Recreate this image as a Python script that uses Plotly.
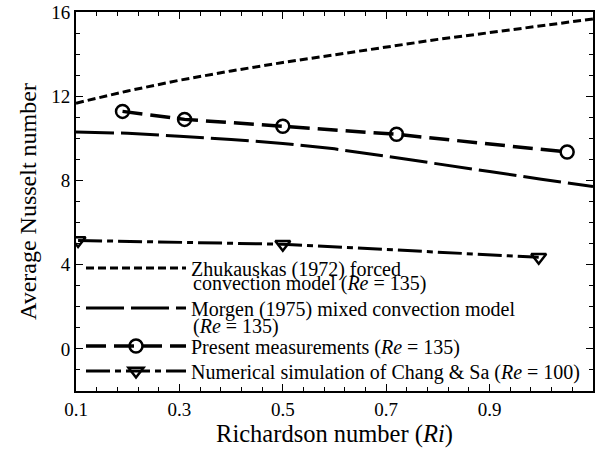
import plotly.graph_objects as go

# Zhukauskas (1972) forced convection model
ri_zh = [0.1, 0.2, 0.3, 0.4, 0.5, 0.6, 0.7, 0.8, 0.9, 1.0, 1.1]
nu_zh = [11.67, 12.25, 12.76, 13.2, 13.6, 13.97, 14.33, 14.7, 15.02, 15.35, 15.67]

# Morgen (1975) mixed convection model
ri_mo = [0.1, 0.2, 0.3, 0.4, 0.5, 0.6, 0.7, 0.8, 0.9, 1.0, 1.1]
nu_mo = [10.30, 10.24, 10.10, 9.95, 9.76, 9.50, 9.15, 8.80, 8.42, 8.06, 7.71]

# Present measurements
ri_pm = [0.19, 0.31, 0.50, 0.72, 1.05]
nu_pm = [11.28, 10.9, 10.57, 10.19, 9.35]

# Numerical simulation of Chang & Sa
ri_cs = [0.104, 0.50, 0.995]
nu_cs = [5.15, 4.97, 4.35]

x_ticks = [0.1, 0.3, 0.5, 0.7, 0.9, 1.1]
y_ticks = [0, 4, 8, 12, 16]

FONT = "Liberation Serif"
LEG_SIZE = 20

# plot area in pixels (for placing legend pieces)
W, H = 604, 451
ML, MR, MT, MB = 76, 11, 12, 60
PW, PH = W - ML - MR, H - MT - MB


def px_x(p):
    return (p - ML) / PW


def px_y(p):
    return (H - MB - p) / PH


fig = go.Figure()
fig.add_trace(go.Scatter(
    x=ri_zh, y=nu_zh, mode="lines", legend="legend",
    name="Zhukauskas (1972) forced",
    line=dict(color="black", width=3, dash="8px,4px")))
fig.add_trace(go.Scatter(
    x=ri_mo, y=nu_mo, mode="lines", legend="legend2",
    name="Morgen (1975) mixed convection model",
    line=dict(color="black", width=3, dash="38px,7px")))
fig.add_trace(go.Scatter(
    x=ri_pm, y=nu_pm, mode="lines+markers", legend="legend3",
    name="Present measurements (<i>Re</i> = 135)",
    line=dict(color="black", width=3.5, dash="20px,8px"),
    marker=dict(symbol="circle-open", size=13, color="black", line=dict(width=2.5, color="black"))))
fig.add_trace(go.Scatter(
    x=ri_cs, y=nu_cs, mode="lines+markers", legend="legend4",
    name="Numerical simulation of Chang & Sa (<i>Re</i> = 100)",
    line=dict(color="black", width=3, dash="24px,5px,6px,5px"),
    marker=dict(symbol="triangle-down-open", size=13, color="black", line=dict(width=2.5, color="black"))))

axis_common = dict(
    showgrid=False, zeroline=False, showline=True, linecolor="black", linewidth=2,
    mirror="ticks", ticks="inside", ticklen=7, tickwidth=1, tickcolor="black",
    tickfont=dict(family=FONT, size=19, color="black"), automargin=False,
)

fig.update_xaxes(
    range=[0.1, 1.1], tickvals=x_ticks, ticktext=[f"{v:g}" for v in x_ticks],
    minor=dict(dtick=0.04, tick0=0.1, ticks="inside", ticklen=4, tickcolor="black", tickwidth=1),
    title=dict(text="Richardson number (<i>Ri</i>)", font=dict(family=FONT, size=24.5, color="black"), standoff=4),
    **axis_common)
fig.update_yaxes(
    range=[-2, 16], tickvals=y_ticks,
    minor=dict(dtick=1, tick0=0, ticks="inside", ticklen=4, tickcolor="black", tickwidth=1),
    title=dict(text="Average Nusselt number", font=dict(family=FONT, size=24, color="black"), standoff=8),
    **axis_common)

leg_common = dict(
    xanchor="left", yanchor="middle", x=px_x(81),
    bgcolor="rgba(0,0,0,0)", borderwidth=0,
    font=dict(family=FONT, size=LEG_SIZE, color="black"),
    itemwidth=100,
)
fig.update_layout(
    width=W, height=H,
    margin=dict(l=ML, r=MR, t=MT, b=MB),
    plot_bgcolor="white", paper_bgcolor="white",
    font=dict(family=FONT, color="black"),
    legend=dict(y=px_y(268), **leg_common),
    legend2=dict(y=px_y(308), **leg_common),
    legend3=dict(y=px_y(346), **leg_common),
    legend4=dict(y=px_y(371), **leg_common),
    showlegend=True,
)

# continuation lines of the two-line legend labels
for text, ypx in [("convection model (<i>Re</i> = 135)", 283), ("(<i>Re</i> = 135)", 326)]:
    fig.add_annotation(
        x=px_x(191), y=px_y(ypx), xref="paper", yref="paper",
        xanchor="left", yanchor="middle", showarrow=False,
        text=text, font=dict(family=FONT, size=LEG_SIZE, color="black"))

fig.write_html("out.html")
